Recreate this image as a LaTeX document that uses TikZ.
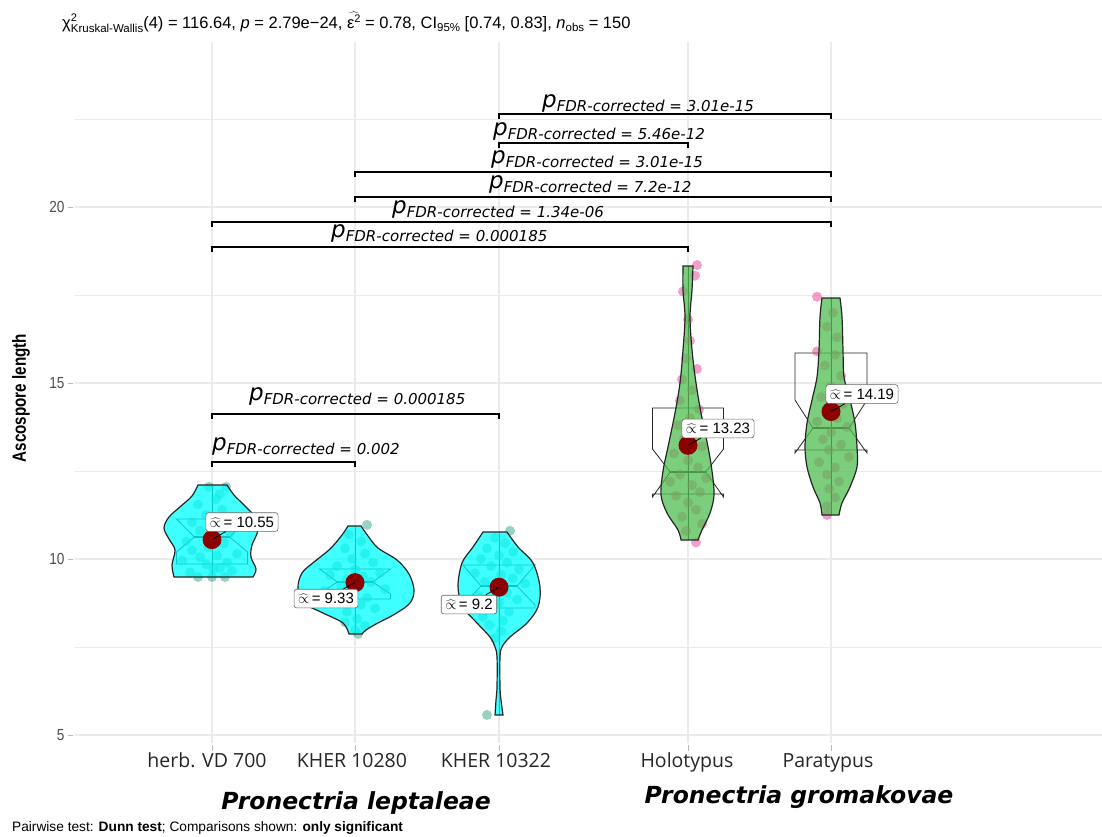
\documentclass[tikz,border=0pt]{standalone}
\usepackage{fontspec}
\setmainfont{Liberation Sans}
\newfontfamily\dvs{DejaVu Sans}
\newfontfamily\osans{Open Sans}
\usetikzlibrary{calc}
\definecolor{gridc}{RGB}{235,235,235}
\definecolor{vcyan}{RGB}{0,255,255}
\definecolor{vgreen}{RGB}{80,190,80}
\definecolor{pteal}{RGB}{27,158,119}
\definecolor{ppink}{RGB}{231,41,138}
\definecolor{meanred}{RGB}{139,0,0}
\definecolor{ticktxt}{RGB}{77,77,77}
\newcommand{\pfdr}[1]{{\dvs\itshape\fontsize{23}{23}\selectfont p\raisebox{-4pt}{\fontsize{15}{15}\selectfont FDR-corrected = #1}}}
\newcommand{\mlab}[1]{$\widehat{\propto}$\,= #1}
\newcommand{\notchbox}[7]{%
  \draw[boxst] ({#1-#2},#3) -- ({#1-#2},#4) -- ({#1-#2/2},#5) -- ({#1-#2},#6) -- ({#1-#2},#7) -- ({#1+#2},#7) -- ({#1+#2},#6) -- ({#1+#2/2},#5) -- ({#1+#2},#4) -- ({#1+#2},#3) -- cycle;
  \draw[boxst, line width=1.4pt] ({#1-#2/2},#5) -- ({#1+#2/2},#5);}
\newcommand{\brk}[3]{\draw[bracket] (#1,{#3+5}) -- (#1,#3) -- (#2,#3) -- (#2,{#3+5});}
\tikzset{
  gridmaj/.style={draw=gridc, line width=1.1pt},
  gridmin/.style={draw=gridc, line width=0.7pt},
  axtick/.style={draw=gray!55, line width=0.8pt},
  vcyanst/.style={draw=black!85, line width=1.2pt, fill=vcyan, fill opacity=0.75},
  vgreenst/.style={draw=black!85, line width=1.2pt, fill=vgreen, fill opacity=0.75},
  boxst/.style={draw=black!85, line width=0.8pt},
  bracket/.style={draw=black, line width=1.1pt},
  meandot/.style={circle, fill=meanred, minimum size=19pt, inner sep=0pt},
  mlabel/.style={draw=black!60, rounded corners=2.5pt, fill=white, inner xsep=4pt, inner ysep=4pt, line width=0.6pt, font=\fontsize{15}{15}\selectfont},
  plab/.style={anchor=base west, inner sep=0pt},
  ytl/.style={anchor=east, text=ticktxt, font=\fontsize{16}{16}\selectfont},
  xtl/.style={anchor=base, text=black!85, font=\osans\fontsize{19.5}{19.5}\selectfont},
  grp/.style={anchor=base, font=\dvs\bfseries\itshape\fontsize{23.5}{23.5}\selectfont},
}
\begin{document}
\begin{tikzpicture}[x=1pt, y=-1pt]
\useasboundingbox (0,0) rectangle (1102,836);
\fill[white] (0,0) rectangle (1102,836);
% grid
\foreach \yy in {119,295,471,647} \draw[gridmin] (74,\yy) -- (1102,\yy);
\foreach \yy in {207,383,559,735} {\draw[gridmaj] (74,\yy) -- (1102,\yy); \draw[axtick] (68,\yy) -- (73,\yy);}
\foreach \xx in {212,355,499,688,831} {\draw[gridmaj] (\xx,42) -- (\xx,743); \draw[axtick] (\xx,745) -- (\xx,751);}
% y tick labels
\node[ytl] (t20) at (68,207) {\scalebox{0.85}[1]{20}};
\node[ytl] (t15) at (68,383) {\scalebox{0.85}[1]{15}};
\node[ytl] (t10) at (68,559) {\scalebox{0.85}[1]{10}};
\node[ytl] (t5) at (68,735) {\scalebox{0.85}[1]{5}};
\node[rotate=90, font=\bfseries\fontsize{19}{19}\selectfont] (ytitle) at (21,398) {\scalebox{0.8}[1]{Ascospore length}};
% x labels
\node[xtl] (x1) at (207,767) {herb. VD 700};
\node[xtl] (x2) at (352,767) {KHER 10280};
\node[xtl] (x3) at (496,767) {KHER 10322};
\node[xtl] (x4) at (687,767) {Holotypus};
\node[xtl] (x5) at (828,767) {Paratypus};
\node[grp] (g1) at (356,809) {Pronectria leptaleae};
\node[grp] (g2) at (799,803) {Pronectria gromakovae};
% title & caption
\node[anchor=west, inner sep=0pt, font=\fontsize{16.5}{17}\selectfont] (title) at (62,22) {χ\rlap{\raisebox{6.5pt}{\fontsize{11}{11}\selectfont 2}}\raisebox{-4pt}{\fontsize{11.5}{12}\selectfont Kruskal-Wallis}(4) = 116.64, \textit{p} = 2.79e−24, $\widehat{\mbox{ε\raisebox{5.5pt}{\fontsize{11}{11}\selectfont 2}}}$ = 0.78, CI\raisebox{-3.5pt}{\fontsize{11.5}{12}\selectfont 95\%} [0.74, 0.83], \textit{n}\raisebox{-3.5pt}{\fontsize{11.5}{12}\selectfont obs} = 150};
\node[anchor=west, inner sep=0pt, font=\fontsize{13.7}{14}\selectfont] (cap) at (12,828) {Pairwise test: \textbf{Dunn test}; Comparisons shown: \textbf{only significant}};
% boxes and whiskers (beneath violins)
\draw[boxst] (212,485) -- (212,577); \notchbox{212}{35.5}{519}{519}{537}{552}{564}
\draw[boxst] (355,526) -- (355,634); \notchbox{355}{35.5}{569}{569}{582}{594}{599}
\draw[boxst] (499,532) -- (499,715); \notchbox{499}{36}{565}{565}{586}{605}{608}
\draw[boxst] (688,266) -- (688,540); \notchbox{688}{35.5}{408}{449}{472}{497}{494}
\draw[boxst] (831,298) -- (831,515); \notchbox{831}{36}{353}{400}{428}{453}{450}
% points
\foreach \dx/\pv in {-14/9.49, 0/9.49, 13/9.49, 1/9.72, 8/9.74, -22/9.62, 20/9.66, -6/9.85, 15/9.9, -30/9.95, -12/10.05, 5/10.1, 25/10.15, -20/10.25, -4/10.35, 12/10.45, -26/10.5, 0/10.6, 18/10.75, -12/10.8, 6/10.95, -20/11.05, 24/11.1, -6/11.25, 10/11.4, -14/11.55, 4/11.7, 8/11.85, -3/12.05, 14/12.05}
  \fill[pteal, fill opacity=.45] ({212+\dx},{735-(\pv-5)*35.2}) circle[radius=5pt];
\foreach \dx/\pv in {12/10.97, -6/10.7, 6/10.5, -10/10.3, 10/10.15, -3/10.0, 18/9.9, -18/9.8, 0/9.7, 25/9.6, -25/9.55, 8/9.5, -8/9.42, 16/9.35, -14/9.25, 4/9.2, 30/9.15, -30/9.1, -4/9.0, 12/8.9, -18/8.8, 6/8.7, 20/8.6, -8/8.5, 2/8.3, -10/8.2, 10/8.1, 0/7.98, 3/7.87}
  \fill[pteal, fill opacity=.45] ({355+\dx},{735-(\pv-5)*35.2}) circle[radius=5pt];
\foreach \dx/\pv in {11/10.8, -4/10.6, 6/10.45, -12/10.3, 14/10.2, 0/10.1, -18/10.0, 8/9.9, -8/9.8, 20/9.7, -24/9.6, 2/9.55, 14/9.45, -14/9.35, 26/9.3, -4/9.2, 8/9.05, -20/8.95, 18/8.85, 0/8.75, -10/8.6, 10/8.5, -16/8.35, 4/8.25, -10/8.12, 2/7.95, -4/7.75, -12/5.57}
  \fill[pteal, fill opacity=.45] ({499+\dx},{735-(\pv-5)*35.2}) circle[radius=5pt];
\foreach \dx/\pv in {9/18.35, 7/18.05, -5/17.6, 0/16.8, 2/16.2, -2/15.7, 9/15.4, -6/15.1, 4/14.8, -8/14.5, 11/14.25, 2/14.0, -10/13.8, 8/13.6, -4/13.4, 14/13.2, -14/13.0, 0/12.8, 10/12.6, -8/12.4, 18/12.3, -18/12.2, 4/12.1, 12/11.9, -12/11.8, 0/11.6, 8/11.4, -6/11.2, 14/11.0, -2/10.8, 8/10.47}
  \fill[ppink, fill opacity=.45] ({688+\dx},{735-(\pv-5)*35.2}) circle[radius=5pt];
\foreach \dx/\pv in {-14/17.45, 2/17.0, -4/16.6, 6/16.3, -14/15.9, 4/15.8, -6/15.5, 10/15.2, 0/14.9, -10/14.6, 12/14.4, -4/14.2, 6/14.0, -14/13.9, 16/13.75, 0/13.6, -8/13.4, 10/13.25, -2/13.1, 18/12.9, -12/12.75, 4/12.6, -4/12.4, 8/12.2, -2/12.0, 4/11.75, -4/11.5, -4/11.25}
  \fill[ppink, fill opacity=.45] ({831+\dx},{735-(\pv-5)*35.2}) circle[radius=5pt];
% violins
\draw[vcyanst] (198,485) -- plot[smooth, tension=0.55] coordinates {(227,485) (234,495) (244,505) (254,516) (258,530) (252,545) (251,557) (256,569) (253,577)} -- plot[smooth, tension=0.55] coordinates {(174,577) (172,565) (175,550) (169,539) (164,528) (169,517) (181,506) (192,496) (198,485)} -- cycle;
\draw[vcyanst] (348,526) -- plot[smooth, tension=0.55] coordinates {(361,526) (368,536) (378,548) (397,560) (409,574) (414,590) (410,603) (395,614) (376,624) (366,630) (362,634)} -- plot[smooth, tension=0.55] coordinates {(349,634) (343,623) (323,613) (304,603) (298,588) (302,573) (314,562) (330,549) (342,535) (348,526)} -- cycle;
\draw[vcyanst] (483,532) -- plot[smooth, tension=0.55] coordinates {(507,532) (518,547) (533,563) (540,587) (538,607) (527,623) (510,637) (502,647) (500,657) (500,687) (501,700) (503,715)} -- plot[smooth, tension=0.55] coordinates {(495,715) (496,700) (497,687) (497,657) (495,647) (490,637) (477,623) (463,607) (458,587) (462,563) (473,547) (483,532)} -- cycle;
\draw[vgreenst] (683,266) -- plot[smooth, tension=0.55] coordinates {(693,266) (692,290) (690,317) (692,350) (696,383) (701,413) (708,447) (712,471) (714,495) (710,513) (702,530) (698,540)} -- plot[smooth, tension=0.55] coordinates {(681,540) (678,530) (667,513) (661,495) (663,471) (668,447) (675,413) (680,383) (683,350) (685,317) (683,290) (683,266)} -- cycle;
\draw[vgreenst] (822,298) -- plot[smooth, tension=0.55] coordinates {(840,298) (842,317) (843,350) (844,377) (850,400) (855,423) (857,447) (857,467) (850,487) (842,503) (839,515)} -- plot[smooth, tension=0.55] coordinates {(822,515) (820,503) (813,487) (807,467) (805,447) (807,423) (812,400) (817,377) (819,350) (820,317) (822,298)} -- cycle;
% means
\node[meandot] (m1) at (212,539.6) {};
\node[meandot] (m2) at (355,582.6) {};
\node[meandot] (m3) at (499,587.2) {};
\node[meandot] (m4) at (688,445.3) {};
\node[meandot] (m5) at (831,411.5) {};
\node[mlabel] (l1) at (242,522) {\mlab{10.55}};
\node[mlabel] (l2) at (326,598.5) {\mlab{9.33}};
\node[mlabel] (l3) at (469,604.5) {\mlab{9.2}};
\node[mlabel] (l4) at (718,428.5) {\mlab{13.23}};
\node[mlabel] (l5) at (862,394) {\mlab{14.19}};
\foreach \i in {1,...,5} \draw[line width=0.8pt] (m\i.center) -- (l\i);
% brackets
\brk{499}{831}{114}
\brk{499}{688}{143}
\brk{355}{831}{172}
\brk{355}{831}{197}
\brk{212}{831}{222}
\brk{212}{688}{247}
\brk{212}{499}{414}
\brk{212}{355}{462}
\node[plab] (p1) at (542,107) {\pfdr{3.01e-15}};
\node[plab] (p2) at (493,135) {\pfdr{5.46e-12}};
\node[plab] (p3) at (491,163) {\pfdr{3.01e-15}};
\node[plab] (p4) at (489,188) {\pfdr{7.2e-12}};
\node[plab] (p5) at (392,213) {\pfdr{1.34e-06}};
\node[plab] (p6) at (331,237) {\pfdr{0.000185}};
\node[plab] (p7) at (249,400) {\pfdr{0.000185}};
\node[plab] (p8) at (212,450) {\pfdr{0.002}};
\end{tikzpicture}
\end{document}
